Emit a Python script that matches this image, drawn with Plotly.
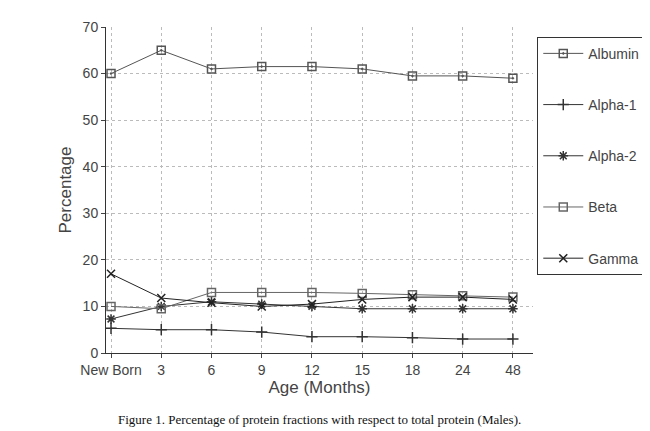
import plotly.graph_objects as go

ages = ["New Born", "3", "6", "9", "12", "15", "18", "24", "48"]
albumin = [60, 65, 61, 61.5, 61.5, 61, 59.5, 59.5, 59]
alpha1 = [5.3, 5, 5, 4.5, 3.5, 3.5, 3.3, 3, 3]
alpha2 = [7.3, 10, 11, 10.5, 10, 9.5, 9.5, 9.5, 9.5]
beta = [10, 9.5, 13, 13, 13, 12.8, 12.5, 12.3, 12]
gamma = [17, 11.8, 10.8, 10, 10.5, 11.5, 12, 12, 11.5]

series = [
    ("Albumin", albumin, "square-open-dot", "#555"),
    ("Alpha-1", alpha1, "cross-thin", "#333"),
    ("Alpha-2", alpha2, "asterisk", "#333"),
    ("Beta", beta, "square-open", "#666"),
    ("Gamma", gamma, "x-thin", "#222"),
]

fig = go.Figure()
for name, vals, sym, col in series:
    fig.add_trace(go.Scatter(
        x=list(range(len(ages))), y=vals, name=name, mode="lines+markers",
        legendgroup=name,
        line=dict(color=col, width=1),
        marker=dict(symbol=sym, size=8, color=col, line=dict(color=col, width=1.5)),
    ))

fig.update_layout(
    width=650, height=431, paper_bgcolor="white", plot_bgcolor="white",
    margin=dict(l=98, r=125, t=19, b=86),
    font=dict(family="Liberation Sans", size=14, color="#444"),
    xaxis=dict(title=dict(text="Age (Months)", standoff=4), tickmode="array",
               tickvals=list(range(len(ages))), ticktext=ages, range=[-0.1, 8.4],
               showgrid=True, gridcolor="#bbb", griddash="dot", showline=True,
               linecolor="#333", ticks="outside", ticklen=4, zeroline=False),
    yaxis=dict(title=dict(text="Percentage", standoff=6), range=[0, 70], dtick=10,
               showgrid=True, gridcolor="#bbb", griddash="dot", showline=True,
               linecolor="#333", ticks="outside", ticklen=4, zeroline=False),
    legend=dict(x=1.01, y=0.97, xanchor="left", yanchor="top", bordercolor="#333",
                borderwidth=1, font=dict(size=14), tracegroupgap=30,
                itemwidth=40),
    annotations=[dict(text="Figure 1. Percentage of protein fractions with respect to total protein (Males).",
                      x=0.5, xref="paper", y=-0.205, yref="paper", showarrow=False,
                      xanchor="center", yanchor="middle",
                      font=dict(family="Liberation Serif", size=13, color="#111"))],
)
fig.write_html("out.html")
